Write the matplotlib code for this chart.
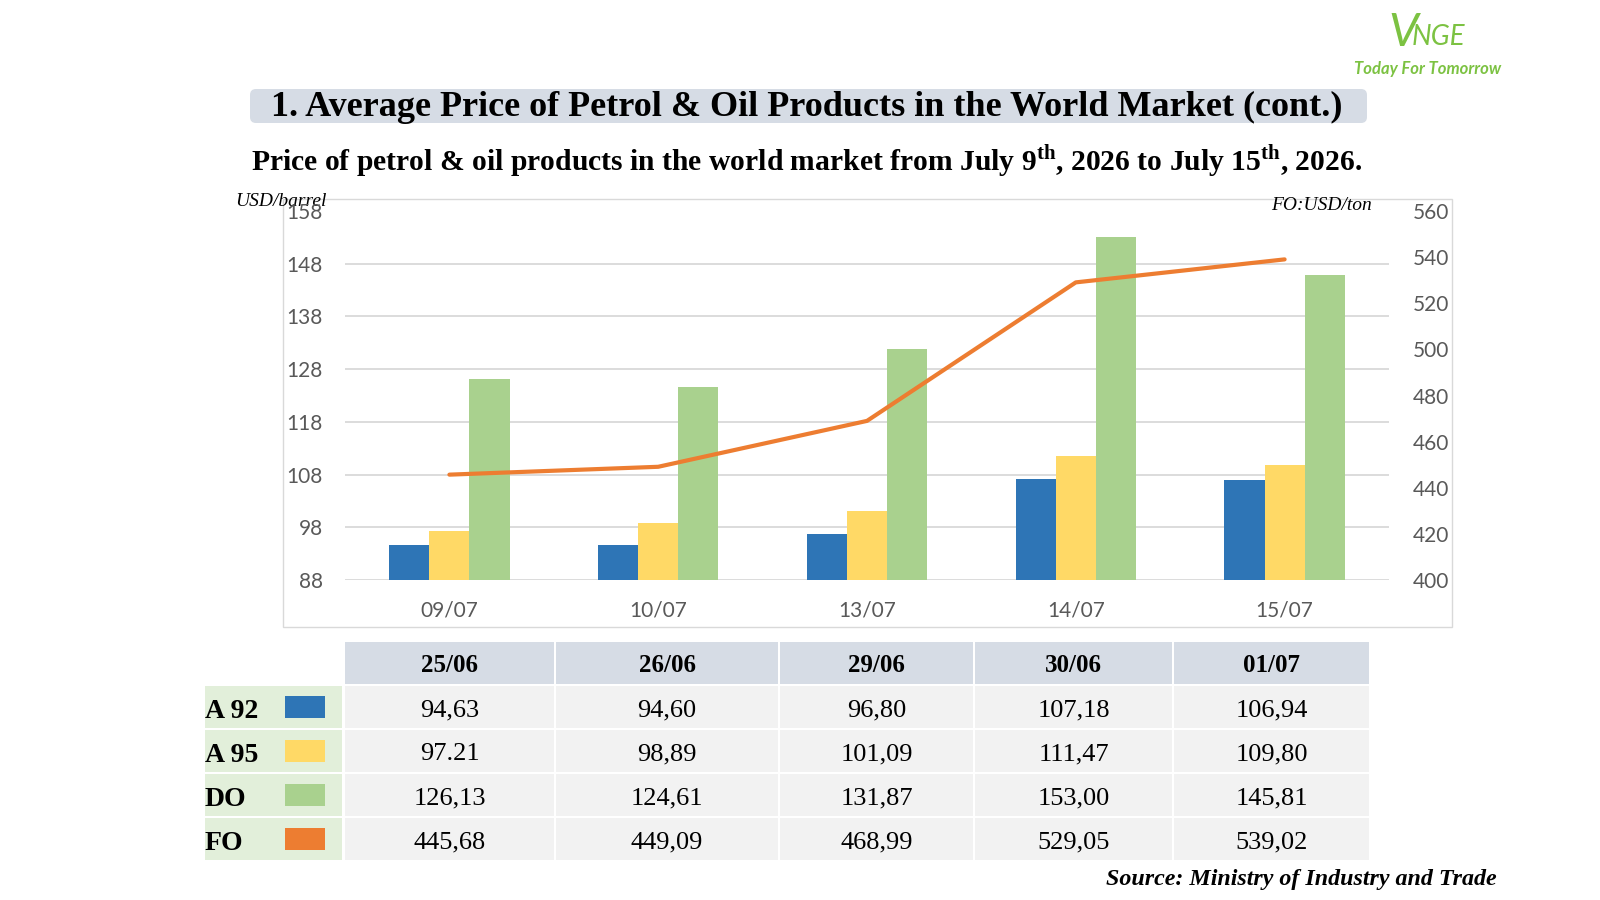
import numpy as np
import matplotlib.pyplot as plt
from matplotlib.patches import Rectangle, FancyBboxPatch

plt.rcParams['mathtext.fontset'] = 'custom'
plt.rcParams['mathtext.rm'] = 'Liberation Serif:bold'
plt.rcParams['mathtext.bf'] = 'Liberation Serif:bold'

# data
chart_dates = ['09/07', '10/07', '13/07', '14/07', '15/07']
table_dates = ['25/06', '26/06', '29/06', '30/06', '01/07']
a92 = [94.63, 94.60, 96.80, 107.18, 106.94]
a95 = [97.21, 98.89, 101.09, 111.47, 109.80]
do = [126.13, 124.61, 131.87, 153.00, 145.81]
fo = [445.68, 449.09, 468.99, 529.05, 539.02]
series_names = ['A 92', 'A 95', 'DO', 'FO']
left_ticks = [88, 98, 108, 118, 128, 138, 148, 158]
right_ticks = [400, 420, 440, 460, 480, 500, 520, 540, 560]

colors = {'A 92': '#2e75b6', 'A 95': '#ffd966', 'DO': '#a9d18e', 'FO': '#ed7d31'}
serif = 'Liberation Serif'
sans = 'Lato'
tick_col = '#595959'
grid_col = '#d9d9d9'

fig = plt.figure(figsize=(16, 9), dpi=100)
fig.patch.set_facecolor('white')

# overlay in pixel coordinates for boxes, titles and the table
ov = fig.add_axes([0, 0, 1, 1], zorder=0)
ov.set_xlim(0, 1600)
ov.set_ylim(900, 0)
ov.axis('off')

# logo
ov.text(1388, 33, 'V', color='#7cc242', fontsize=34, fontstyle='italic',
        family=sans, ha='left', va='center')
ov.text(1412, 37, 'NGE', color='#7cc242', fontsize=20, fontstyle='italic',
        family=sans, ha='left', va='center')
ov.text(1428, 69, 'Today For Tomorrow', color='#7cc242', fontsize=12,
        fontstyle='italic', fontweight='bold', family=sans, ha='center', va='center')

# title
ov.add_patch(FancyBboxPatch((250, 89), 1117, 34, boxstyle='round,pad=0,rounding_size=6',
                            facecolor='#d6dce5', edgecolor='none'))
ov.text(807, 107, '1. Average Price of Petrol & Oil Products in the World Market (cont.)',
        family=serif, fontweight='bold', fontsize=26, ha='center', va='center')
ov.text(807, 161,
        r'Price of petrol & oil products in the world market from July 9$^{\mathrm{th}}$, 2026 to July 15$^{\mathrm{th}}$, 2026.',
        family=serif, fontweight='bold', fontsize=21.3, ha='center', va='center')

# chart frame
ov.add_patch(Rectangle((283, 199), 1169, 428, facecolor='white', edgecolor=grid_col, lw=1))
ov.text(235, 202, 'USD/barrel', family=serif, fontstyle='italic', fontsize=14,
        ha='left', va='center')
ov.text(1372, 205, 'FO:USD/ton', family=serif, fontstyle='italic', fontsize=14,
        ha='right', va='center')

# chart
ax = fig.add_axes([345 / 1600, 1 - 580 / 900, 1044 / 1600, 369 / 900], zorder=1)
ax.patch.set_visible(False)
x = np.arange(len(chart_dates))
w = 0.192
ax.bar(x - w, a92, w, color=colors['A 92'], zorder=3)
ax.bar(x, a95, w, color=colors['A 95'], zorder=3)
ax.bar(x + w, do, w, color=colors['DO'], zorder=3)
ax.set_xlim(-0.5, 4.5)
ax.set_ylim(88, 158)
ax.set_yticks(left_ticks)
for t in left_ticks[:-1]:
    ax.axhline(t, color=grid_col, lw=1.3, zorder=1)
ax.set_xticks(x)
ax.set_xticklabels(chart_dates)
for s in ax.spines.values():
    s.set_visible(False)
ax.tick_params(axis='y', length=0, pad=16, labelsize=15, labelcolor=tick_col)
ax.tick_params(axis='x', length=0, pad=15, labelsize=15, labelcolor=tick_col)
for lab in ax.get_xticklabels() + ax.get_yticklabels():
    lab.set_family(sans)

ax2 = ax.twinx()
ax2.set_zorder(2)
ax2.patch.set_visible(False)
ax2.plot(x, fo, color=colors['FO'], lw=3, solid_capstyle='round', zorder=4)
ax2.set_ylim(400, 560)
ax2.set_yticks(right_ticks)
for s in ax2.spines.values():
    s.set_visible(False)
ax2.tick_params(axis='y', length=0, pad=17, labelsize=15, labelcolor=tick_col)
for lab in ax2.get_yticklabels():
    lab.set_family(sans)

# table
col_edges = [344, 555, 779, 974, 1173, 1370]
row_tops = [686, 730, 774, 818]
row_h = 42
header_top, header_h = 642, 42
label_left, label_right = 205, 342
rows = [a92, a95, do, fo]

for i, d in enumerate(table_dates):
    x0, x1 = col_edges[i] + 1, col_edges[i + 1] - 1
    ov.add_patch(Rectangle((x0, header_top), x1 - x0, header_h, facecolor='#d6dce5',
                           edgecolor='none'))
    ov.text((x0 + x1) / 2, header_top + header_h / 2 + 3, d, family=serif,
            fontweight='bold', fontsize=18, ha='center', va='center')

for r, (name, vals) in enumerate(zip(series_names, rows)):
    y0 = row_tops[r]
    ov.add_patch(Rectangle((label_left, y0), label_right - label_left, row_h,
                           facecolor='#e2efda', edgecolor='none'))
    ov.text(label_left, y0 + row_h / 2 + 5, name, family=serif, fontweight='bold',
            fontsize=20, ha='left', va='center')
    ov.add_patch(Rectangle((285, y0 + 10), 40, 22, facecolor=colors[name],
                           edgecolor='none'))
    for i, v in enumerate(vals):
        x0, x1 = col_edges[i] + 1, col_edges[i + 1] - 1
        ov.add_patch(Rectangle((x0, y0), x1 - x0, row_h, facecolor='#f2f2f2',
                               edgecolor='none'))
        txt = f'{v:.2f}'
        if not (name == 'A 95' and i == 0):
            txt = txt.replace('.', ',')
        ov.text((x0 + x1) / 2, y0 + row_h / 2 + 3, txt, family=serif, fontsize=19,
                ha='center', va='center')

ov.text(1497, 879, 'Source: Ministry of Industry and Trade', family=serif,
        fontweight='bold', fontstyle='italic', fontsize=17.3, ha='right', va='center')

fig.savefig('out.png', dpi=100)
